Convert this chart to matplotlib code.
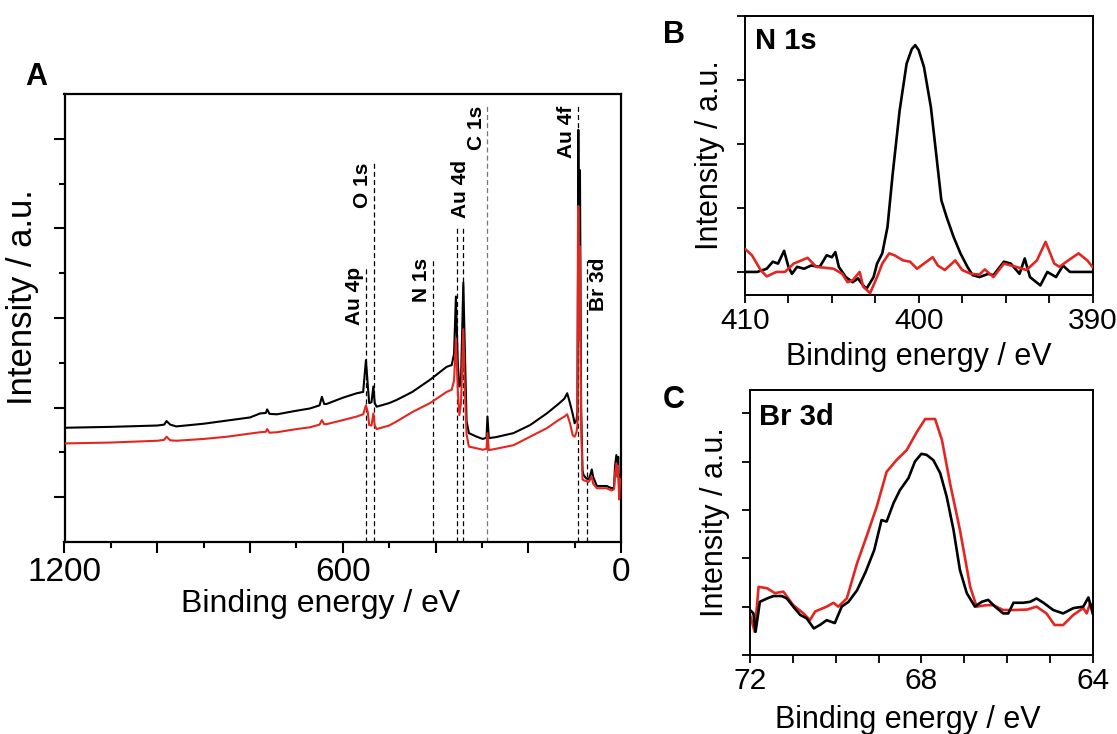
import matplotlib
matplotlib.use("Agg")
import matplotlib.pyplot as plt
from matplotlib.ticker import MultipleLocator, FixedLocator, FuncFormatter, NullFormatter

plt.rcParams['font.family'] = ['Liberation Sans', 'DejaVu Sans']

W, H = 1117, 734
RED = '#e3261f'

# ---------------- Panel A: survey spectrum ----------------
survey_ev = [1200, 1100, 1000, 985, 980, 972, 959, 900, 850, 800, 778, 766, 763, 758, 742,
             700, 671, 650, 645, 640, 635, 600, 570, 556, 550, 546, 543, 538, 534, 531, 527,
             500, 484, 450, 412, 376, 365, 360, 356, 352, 348.6, 345, 340, 337, 333, 328,
             311, 298, 290, 288, 285, 270, 232, 196, 160, 135, 122, 116, 110, 104, 100, 96,
             94, 92, 90, 88.5, 86, 83, 81, 75, 70, 66, 63, 60, 52, 31, 20, 15, 13, 10, 8, 6,
             4, 2, 0]
survey_black = [2.55, 2.57, 2.60, 2.62, 2.70, 2.62, 2.58, 2.64, 2.71, 2.78, 2.87, 2.88, 2.96, 2.86, 2.85,
                2.93, 2.98, 3.05, 3.24, 3.08, 3.08, 3.22, 3.32, 3.35, 4.06, 3.50, 3.10, 3.12, 3.47, 3.10, 3.02,
                3.10, 3.17, 3.35, 3.62, 3.91, 3.95, 4.20, 5.48, 4.00, 3.47, 3.60, 5.79, 4.40, 2.70, 2.43,
                2.35, 2.30, 2.33, 2.80, 2.32, 2.34, 2.43, 2.61, 2.87, 3.08, 3.20, 3.32, 3.10, 2.85, 2.65, 2.72,
                2.90, 9.20, 5.00, 8.30, 3.00, 1.60, 1.50, 1.42, 1.40, 1.50, 1.62, 1.45, 1.25, 1.25, 1.20, 1.22, 1.68, 1.94, 1.60, 1.90,
                1.05, 1.50, 1.50]
survey_red = [2.20, 2.22, 2.26, 2.28, 2.35, 2.27, 2.26, 2.30, 2.35, 2.42, 2.45, 2.46, 2.52, 2.44, 2.45,
              2.52, 2.56, 2.62, 2.72, 2.63, 2.63, 2.72, 2.80, 2.85, 3.05, 2.90, 2.61, 2.60, 2.87, 2.60, 2.52,
              2.60, 2.69, 2.90, 3.10, 3.35, 3.40, 3.60, 4.55, 3.40, 2.83, 3.10, 4.75, 3.50, 2.40, 2.13,
              2.09, 2.06, 2.08, 2.43, 2.05, 2.08, 2.16, 2.35, 2.54, 2.72, 2.80, 2.85, 2.65, 2.38, 2.35, 2.45,
              2.60, 7.50, 4.50, 6.60, 2.70, 1.40, 1.38, 1.36, 1.34, 1.40, 1.46, 1.30, 1.20, 1.20, 1.15, 1.18, 1.50, 1.76, 1.45, 1.70,
              0.95, 1.40, 1.40]

peak_labels = ['Au 4p', 'O 1s', 'N 1s', 'C 1s', 'Au 4f', 'Br 3d']
peak_pos = [550, 533, 405, 288, 92, 74]
peak_top = [6.14, 8.46, 6.34, 9.73, 9.73, 6.34]
au4d_pos = [354, 340]
au4d_top = 7.08

# ---------------- Panel B: N 1s ----------------
n1s_ev_black = [410, 409.3, 408.75, 408.4, 408.1, 407.75, 407.5, 407.3, 407.0, 406.6, 406.2, 405.7, 405.3,
                405.0, 404.8, 404.6, 404.2, 403.8, 403.5, 403.2, 403.0, 402.6, 402.4, 402.1, 401.8, 401.5,
                401.1, 400.7, 400.4, 400.2, 400.0, 399.7, 399.3, 399.0, 398.7, 398.4, 398.0, 397.6, 397.2,
                396.9, 396.5, 396.0, 395.7, 395.1, 394.7, 394.2, 393.9, 393.6, 393.0, 392.6, 392.1, 391.7,
                391.3, 390]
n1s_black = [0.0, 0.0, 0.05, 0.16, 0.13, 0.33, 0.08, -0.03, 0.08, 0.05, 0.10, 0.08, 0.26,
             0.23, 0.31, 0.08, -0.08, -0.16, -0.10, -0.21, -0.26, -0.08, 0.13, 0.29, 0.70, 1.53,
             2.52, 3.25, 3.48, 3.54, 3.46, 3.20, 2.57, 1.85, 1.12, 0.86, 0.55, 0.29, 0.08,
             -0.05, -0.08, -0.03, -0.05, 0.16, 0.13, -0.03, 0.21, -0.08, -0.21, 0.0, -0.08, 0.10,
             0.0, 0.0]
n1s_ev_red = [410, 409.6, 409.1, 408.75, 408.2, 407.7, 407.2, 406.4, 405.9, 404.9, 404.4, 404.1, 403.8,
              403.4, 403.2, 402.8, 402.4, 402.1, 401.7, 401.4, 400.9, 400.5, 400.1, 399.7, 399.2, 398.9,
              398.5, 397.9, 397.5, 397.0, 396.5, 396.2, 395.7, 395.1, 394.4, 393.8, 393.2, 392.7, 392.2,
              391.9, 391.4, 390.8, 390.3, 390]
n1s_red = [0.36, 0.26, 0.03, -0.07, 0.0, 0.0, 0.13, 0.22, 0.08, 0.05, -0.03, -0.16, -0.13,
           0.0, -0.23, -0.33, -0.08, 0.13, 0.29, 0.26, 0.18, 0.16, 0.05, 0.13, 0.23, 0.10,
           0.03, 0.18, 0.03, -0.03, -0.04, 0.04, -0.08, 0.13, 0.08, 0.03, 0.18, 0.47, 0.13,
           0.08, 0.18, 0.29, 0.18, 0.08]

# ---------------- Panel C: Br 3d ----------------
br_ev_black = [72.0, 71.92, 71.87, 71.77, 71.6, 71.45, 71.26, 71.14, 70.99, 70.83, 70.68, 70.51, 70.37,
               70.21, 70.02, 69.86, 69.7, 69.5, 69.3, 69.1, 68.93, 68.81, 68.65, 68.5, 68.3, 68.15, 68.0,
               67.88, 67.72, 67.56, 67.41, 67.25, 67.1, 66.94, 66.75, 66.59, 66.44, 66.28, 66.09, 65.97,
               65.85, 65.62, 65.46, 65.31, 65.15, 64.92, 64.69, 64.45, 64.22, 64.1, 64.0]
br_black = [0.93, 0.86, 0.48, 1.10, 1.17, 1.22, 1.22, 1.17, 1.00, 0.83, 0.76, 0.55, 0.62,
            0.72, 0.66, 1.00, 1.10, 1.34, 1.72, 2.17, 2.79, 2.76, 3.14, 3.41, 3.66, 4.00, 4.16,
            4.14, 4.03, 3.76, 3.28, 2.59, 1.76, 1.28, 1.00, 1.10, 1.14, 1.00, 0.86, 0.86,
            1.08, 1.08, 1.10, 1.17, 1.08, 0.93, 0.86, 0.97, 1.00, 1.19, 0.86]
br_ev_red = [72.0, 71.89, 71.8, 71.6, 71.42, 71.22, 70.99, 70.75, 70.6, 70.48, 70.21, 70.05, 69.94,
             69.74, 69.5, 69.28, 69.04, 68.81, 68.58, 68.34, 68.1, 67.91, 67.68, 67.52, 67.33, 67.1,
             66.86, 66.71, 66.48, 66.32, 66.09, 65.85, 65.53, 65.31, 65.08, 64.89, 64.69, 64.45, 64.22,
             64.14, 64.06, 64.0]
br_red = [0.83, 0.48, 1.41, 1.38, 1.28, 1.31, 1.03, 0.86, 0.72, 0.90, 1.00, 1.08, 1.00,
          1.17, 1.90, 2.45, 3.07, 3.79, 4.03, 4.24, 4.62, 4.88, 4.88, 4.45, 3.55, 2.59,
          1.41, 1.00, 1.03, 1.03, 0.93, 0.93, 0.94, 1.00, 0.86, 0.62, 0.62, 0.83, 0.97,
          0.86, 1.07, 1.00]

xlabel = 'Binding energy / eV'
ylabel = 'Intensity / a.u.'


def fx(px):
    return px / W


def fy(py):
    return 1 - py / H


fig = plt.figure(figsize=(W / 100, H / 100), dpi=100)

def add_axes(l, t, r, b):
    return fig.add_axes([fx(l), fy(b), fx(r) - fx(l), fy(t) - fy(b)])

axA = add_axes(64.5, 94, 621, 542)
axB = add_axes(745, 15.7, 1092.5, 295)
axC = add_axes(750, 390, 1092.7, 655)

# ---- A ----
axA.plot(survey_ev, survey_black, color='black', lw=1.5, zorder=3)
axA.plot(survey_ev, survey_red, color=RED, lw=1.5, zorder=4)
LBL_FS = 15
for lab, pos, top in zip(peak_labels, peak_pos, peak_top):
    col = '#777777' if lab == 'C 1s' else 'black'
    axA.plot([pos, pos], [0, top], ls=(0, (4, 2.5)), color=col, lw=0.9, zorder=2)
    if lab == 'Br 3d':
        axA.text(pos - 4, top, lab, rotation=90, ha='left', va='top', fontsize=LBL_FS, fontweight='bold')
    else:
        axA.text(pos + 4, top, lab, rotation=90, ha='right', va='top', fontsize=LBL_FS, fontweight='bold')
for pos in au4d_pos:
    axA.plot([pos, pos], [0, au4d_top], ls=(0, (4, 2.5)), color='black', lw=0.9, zorder=2)
axA.text((au4d_pos[0] + au4d_pos[1]) / 2, au4d_top + 0.15, 'Au 4d', rotation=90,
         ha='center', va='bottom', fontsize=LBL_FS, fontweight='bold')

axA.set_xlim(1200, 0)
axA.set_ylim(0, 10)
axA.xaxis.set_major_locator(MultipleLocator(200))
axA.xaxis.set_minor_locator(MultipleLocator(100))
axA.xaxis.set_major_formatter(FuncFormatter(lambda v, p: f'{v:.0f}' if round(v) in (0, 600, 1200) else ''))
axA.yaxis.set_major_locator(FixedLocator([1, 3, 5, 7, 9]))
axA.yaxis.set_minor_locator(FixedLocator([2, 4, 6, 8]))
axA.yaxis.set_major_formatter(NullFormatter())
axA.tick_params(which='major', direction='out', length=8, width=1.5, labelsize=24, pad=3)
axA.tick_params(which='minor', direction='out', length=4.5, width=1.5)
axA.tick_params(axis='x', which='minor', length=4)
for s in axA.spines.values():
    s.set_linewidth(1.6)
axA.set_xlabel(xlabel, fontsize=23)
axA.xaxis.set_label_coords(0.461, -0.105)
axA.set_ylabel(ylabel, fontsize=25)
axA.yaxis.set_label_coords(-0.046, 0.547)

# ---- B ----
axB.plot(n1s_ev_black, n1s_black, color='black', lw=1.9, zorder=3)
axB.plot(n1s_ev_red, n1s_red, color=RED, lw=1.9, zorder=4)
axB.set_xlim(410, 390)
axB.set_ylim(-0.36, 4.0)
axB.xaxis.set_major_locator(MultipleLocator(2.5))
axB.xaxis.set_major_formatter(FuncFormatter(lambda v, p: f'{v:.0f}' if abs(v - round(v / 10) * 10) < 1e-6 else ''))
axB.yaxis.set_major_locator(FixedLocator([0, 1, 2, 3, 4]))
axB.yaxis.set_major_formatter(NullFormatter())

# ---- C ----
axC.plot(br_ev_black, br_black, color='black', lw=1.9, zorder=3)
axC.plot(br_ev_red, br_red, color=RED, lw=1.9, zorder=2)
axC.set_xlim(72, 64)
axC.set_ylim(0, 5.48)
axC.xaxis.set_major_locator(MultipleLocator(1))
axC.xaxis.set_major_formatter(FuncFormatter(lambda v, p: f'{v:.0f}' if round(v) in (72, 68, 64) else ''))
axC.yaxis.set_major_locator(FixedLocator([0, 1, 2, 3, 4, 5]))
axC.yaxis.set_major_formatter(NullFormatter())

for ax in (axB, axC):
    ax.tick_params(which='major', direction='out', length=5.5, width=1.3, labelsize=21.5, pad=3)
    for s in ax.spines.values():
        s.set_linewidth(1.4)
    ax.set_xlabel(xlabel, fontsize=22, labelpad=2)
    ax.set_ylabel(ylabel, fontsize=22, labelpad=6)

axB.xaxis.set_label_coords(0.5, -0.17)
axC.xaxis.set_label_coords(0.46, -0.19)

# panel letters and inset titles
fig.text(fx(25), fy(62), 'A', fontsize=22, fontweight='bold', ha='left', va='top')
fig.text(fx(663), fy(20), 'B', fontsize=22, fontweight='bold', ha='left', va='top')
fig.text(fx(663), fy(385), 'C', fontsize=22, fontweight='bold', ha='left', va='top')
fig.text(fx(755), fy(27), 'N 1s', fontsize=21, fontweight='bold', ha='left', va='top')
fig.text(fx(759), fy(403), 'Br 3d', fontsize=21, fontweight='bold', ha='left', va='top')

fig.savefig('out.png', dpi=100)
